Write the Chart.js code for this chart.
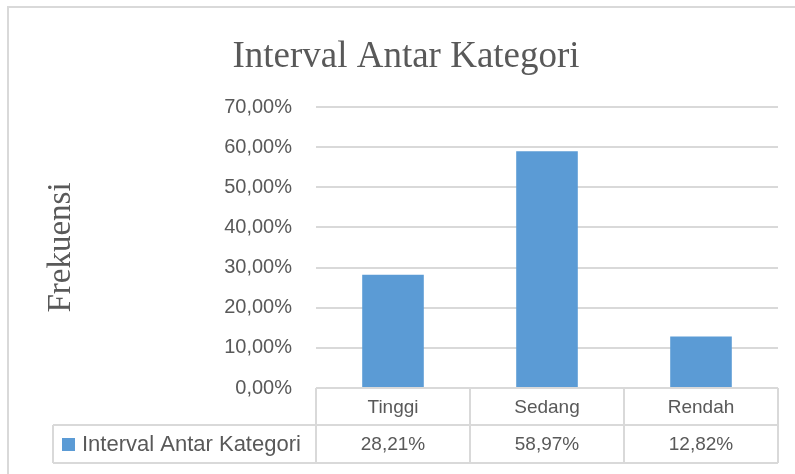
<!DOCTYPE html>
<html>
<head>
<meta charset="utf-8">
<script src="https://cdn.jsdelivr.net/npm/chart.js@4.4.0/dist/chart.umd.min.js"></script>
<style>
  html, body { margin: 0; padding: 0; background: #fff; }
  #wrap { width: 795px; height: 474px; }
</style>
</head>
<body>
<div id="wrap"><canvas id="kategoriChart"></canvas></div>
<script>
var categories = ["Tinggi", "Sedang", "Rendah"];
var seriesName = "Interval Antar Kategori";
var values = [28.21, 58.97, 12.82];
var yTickValues = [0, 10, 20, 30, 40, 50, 60, 70];

var textColor = "#595959";
var lineColor = "#d9d9d9";
var barColor = "#5b9bd5";
var sansFont = "'Liberation Sans', Arial, sans-serif";
var serifFont = "'Liberation Serif', 'Times New Roman', serif";

function pct(v) {
  return v.toFixed(2).replace(".", ",") + "%";
}

// outer frame + data table under the plot
var tablePlugin = {
  id: "dataTable",
  beforeDraw: function (chart) {
    var ctx = chart.ctx;
    ctx.save();
    ctx.strokeStyle = lineColor;
    ctx.lineWidth = 2;
    ctx.strokeRect(8, 7, 800, 480);
    ctx.restore();
  },
  afterDraw: function (chart) {
    var ctx = chart.ctx;
    var area = chart.chartArea;
    var x = chart.scales.x;
    var step = (area.right - area.left) / categories.length;
    var top = area.bottom;
    var row1 = top + 37;
    var row2 = row1 + 38;
    var legendLeft = 53;

    ctx.save();
    ctx.strokeStyle = lineColor;
    ctx.lineWidth = 2;
    ctx.beginPath();
    ctx.moveTo(area.left, top); ctx.lineTo(area.right, top);
    ctx.moveTo(legendLeft, row1); ctx.lineTo(area.right, row1);
    ctx.moveTo(legendLeft, row2); ctx.lineTo(area.right, row2);
    ctx.moveTo(legendLeft, row1); ctx.lineTo(legendLeft, row2);
    for (var i = 0; i <= categories.length; i++) {
      var cx = area.left + i * step;
      ctx.moveTo(cx, top); ctx.lineTo(cx, row2);
    }
    ctx.stroke();

    ctx.fillStyle = textColor;
    ctx.font = "19px " + sansFont;
    ctx.textAlign = "center";
    ctx.textBaseline = "middle";
    categories.forEach(function (c, i) {
      var px = x.getPixelForValue(i);
      ctx.fillText(c, px, (top + row1) / 2 + 1);
      ctx.fillText(pct(values[i]), px, (row1 + row2) / 2 + 1);
    });

    ctx.fillStyle = barColor;
    ctx.fillRect(62, (row1 + row2) / 2 - 6, 13, 13);
    ctx.fillStyle = textColor;
    ctx.textAlign = "left";
    ctx.font = "22px " + sansFont;
    ctx.fillText(seriesName, 82, (row1 + row2) / 2 + 1);
    ctx.restore();
  }
};

var ctx = document.getElementById("kategoriChart").getContext("2d");
var kategoriChart = new Chart(ctx, {
  type: "bar",
  data: {
    labels: categories,
    datasets: [
      {
        label: seriesName,
        data: values,
        backgroundColor: barColor,
        barPercentage: 0.4,
        categoryPercentage: 1,
      },
    ],
  },
  options: {
    responsive: true,
    maintainAspectRatio: false,
    animation: false,
    layout: {
      padding: { left: 34, right: 17, top: 0, bottom: 86 },
    },
    plugins: {
      legend: { display: false },
      tooltip: { enabled: false },
      title: {
        display: true,
        text: "Interval Antar Kategori",
        color: textColor,
        font: { family: serifFont, size: 37, weight: "normal" },
        padding: { top: 35, bottom: 27.6 },
      },
    },
    scales: {
      x: { display: false },
      y: {
        min: 0,
        max: 70,
        afterBuildTicks: function (scale) {
          scale.ticks = yTickValues.map(function (v) { return { value: v }; });
        },
        afterFit: function (scale) {
          scale.width = 282;
        },
        border: { display: false },
        grid: { color: lineColor, lineWidth: 2, drawTicks: false },
        ticks: {
          color: textColor,
          padding: 24,
          font: { family: sansFont, size: 20 },
          callback: function (v) { return pct(v); },
        },
        title: {
          display: true,
          text: "Frekuensi",
          color: textColor,
          font: { family: serifFont, size: 33 },
          padding: { top: 8, bottom: 0 },
        },
      },
    },
  },
  plugins: [tablePlugin],
});
</script>
</body>
</html>
